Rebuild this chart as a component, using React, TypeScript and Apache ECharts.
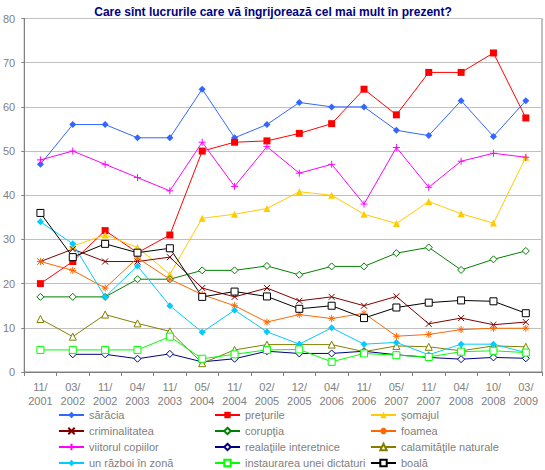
import React, { useEffect, useRef } from "react";
import * as echarts from "echarts";

const categories = ["11/\n2001","03/\n2002","11/\n2002","04/\n2003","11/\n2003","05/\n2004","11/\n2004","02/\n2005","12/\n2005","04/\n2006","11/\n2006","05/\n2007","11/\n2007","04/\n2008","10/\n2008","03/\n2009"];

const saracia = [47, 56, 56, 53, 53, 64, 53, 56, 61, 60, 60, 54.7, 53.5, 61.4, 53.3, 61.4];
const preturile = [20, 25, 32, 27, 31, 50, 52, 52.3, 54, 56.2, 64, 58.2, 67.8, 67.8, 72.2, 57.5];
const somajul = [null, 28.5, 31, 28.2, 22.1, 34.8, 35.7, 37, 40.8, 40, 35.7, 33.6, 38.6, 35.8, 33.7, 48.6];
const criminalitatea = [25, 27.8, 25, 25, 26, 19, 17, 19, 16.1, 17, 15, 17.1, 10.9, 12.2, 10.7, 11.3];
const coruptia = [17, 17, 17, 21, 21, 23, 23, 24, 22, 23.9, 23.9, 26.9, 28.2, 23.1, 25.5, 27.4];
const foamea = [25, 23, 19, 25.8, 21, 17.5, 15, 11.3, 13, 12.1, 13.3, 8.1, 8.5, 9.6, 9.9, 9.9];
const viitorul = [48, 50, 47, 44, 41, 52, 42, 51, 45, 47, 38, 50.8, 41.8, 47.7, 49.5, 48.6];
const relatiile = [null, 4, 4, 3, 4.1, 2.3, 3, 4.7, 4.2, 4.2, 4.7, 3.9, 3.3, 2.9, 3.3, 3.1];
const calamitatile = [12, 8, 13, 11, 9.2, 2, 5, 6.2, 6.2, 6.2, 4.6, 5.9, 5.7, 4.8, 5.9, 5.7];
const razboi = [34, 29, 17, 24, 15, 9, 14, 9.1, 6.3, 10, 6.3, 6.7, 3.9, 6.3, 6.3, 4.4];
const dictatura = [5, 5, 5, 5, 8, 3, 4, 5, 5.1, 2.3, 4.2, 3.8, 3.4, 4.6, 4.8, 4.4];
const boala = [36, 26, 29, 27, 28, 17, 18.2, 17.1, 14.3, 15, 12.2, 14.6, 15.7, 16.2, 16, 13.3];

const yTicks = [0, 10, 20, 30, 40, 50, 60, 70, 80];

const X_SYM = "path://M0,0L10,10M10,0L0,10";
const PLUS_SYM = "path://M5,0L5,10M0,5L10,5";
const STAR_SYM = "path://M5,0L5,10M0,5L10,5M1.5,1.5L8.5,8.5M8.5,1.5L1.5,8.5";

type Def = { name: string; data: (number | null)[]; color: string; symbol: string; hollow?: boolean; stroke?: boolean; size?: number };

const defs: Def[] = [
  { name: "sărăcia", data: saracia, color: "#3366FF", symbol: "diamond" },
  { name: "preţurile", data: preturile, color: "#FF0000", symbol: "rect" },
  { name: "şomajul", data: somajul, color: "#FFCC00", symbol: "triangle" },
  { name: "criminalitatea", data: criminalitatea, color: "#800000", symbol: X_SYM, stroke: true, size: 6 },
  { name: "corupţia", data: coruptia, color: "#008000", symbol: "diamond", hollow: true },
  { name: "foamea", data: foamea, color: "#FF6600", symbol: STAR_SYM, stroke: true, size: 7 },
  { name: "viitorul copiilor", data: viitorul, color: "#FF00FF", symbol: PLUS_SYM, stroke: true, size: 7 },
  { name: "realaţiile interetnice", data: relatiile, color: "#000080", symbol: "diamond", hollow: true },
  { name: "calamităţile naturale", data: calamitatile, color: "#808000", symbol: "triangle", hollow: true },
  { name: "un război în zonă", data: razboi, color: "#00CCFF", symbol: "diamond" },
  { name: "instaurarea unei dictaturi", data: dictatura, color: "#00FF00", symbol: "rect", hollow: true },
  { name: "boală", data: boala, color: "#000000", symbol: "rect", hollow: true },
];

const FONT = "'Liberation Sans', Arial, sans-serif";

export default function App() {
  const ref = useRef<HTMLDivElement>(null);
  useEffect(() => {
    if (!ref.current) return;
    const chart = echarts.init(ref.current, undefined, { renderer: "svg" });
    const series = defs.map((d) => ({
      name: d.name,
      type: "line",
      data: d.data,
      color: d.color,
      symbol: d.symbol,
      symbolSize: d.size ?? 7,
      showAllSymbol: true,
      connectNulls: false,
      lineStyle: { color: d.color, width: 1 },
      itemStyle: d.stroke
        ? { color: "none", borderColor: d.color, borderWidth: 1 }
        : d.hollow
        ? { color: "#FFFFFF", borderColor: d.color, borderWidth: 1 }
        : { color: d.color, borderColor: d.color, borderWidth: 0 },
      emphasis: { disabled: true },
    }));
    const legendBase = {
      orient: "vertical",
      top: 409,
      height: 80,
      padding: 0,
      itemWidth: 25,
      itemHeight: 8,
      itemGap: 4,
      textStyle: { fontFamily: FONT, fontSize: 11, color: "#808080", lineHeight: 12 },
      selectedMode: false,
    };
    const names = defs.map((d) => d.name);
    chart.setOption({
      animation: false,
      title: {
        text: "Care sînt lucrurile care vă îngrijorează cel mai mult în prezent?",
        left: 268,
        top: 1,
        textAlign: "center",
        textStyle: { fontFamily: FONT, fontSize: 12, fontWeight: "bold", color: "#000080" },
      },
      legend: [
        { ...legendBase, left: 58, data: [names[0], names[3], names[6], names[9]] },
        { ...legendBase, left: 214, data: [names[1], names[4], names[7], names[10]] },
        { ...legendBase, left: 370, data: [names[2], names[5], names[8], names[11]] },
      ],
      grid: { left: 23, right: 3, top: 18.5, bottom: 98, show: true, borderColor: "#808080", borderWidth: 1, backgroundColor: "transparent" },
      xAxis: {
        type: "category",
        data: categories,
        boundaryGap: true,
        axisLine: { lineStyle: { color: "#808080" } },
        axisTick: { show: true, interval: 0, length: 4, inside: false, lineStyle: { color: "#808080" } },
        axisLabel: { interval: 0, fontFamily: FONT, fontSize: 11, color: "#808080", lineHeight: 14, margin: 8 },
      },
      yAxis: {
        type: "value",
        min: yTicks[0],
        max: yTicks[yTicks.length - 1],
        interval: 10,
        axisLine: { show: true, lineStyle: { color: "#808080" } },
        axisTick: { show: true, length: 3, lineStyle: { color: "#808080" } },
        axisLabel: { fontFamily: FONT, fontSize: 11, color: "#808080", margin: 9 },
        splitLine: { show: true, lineStyle: { color: "#C0C0C0", width: 1 } },
      },
      series,
    });
    return () => chart.dispose();
  }, []);
  return <div ref={ref} style={{ position: "absolute", left: 0, top: 0, width: 545, height: 470, background: "#fff" }} />;
}
